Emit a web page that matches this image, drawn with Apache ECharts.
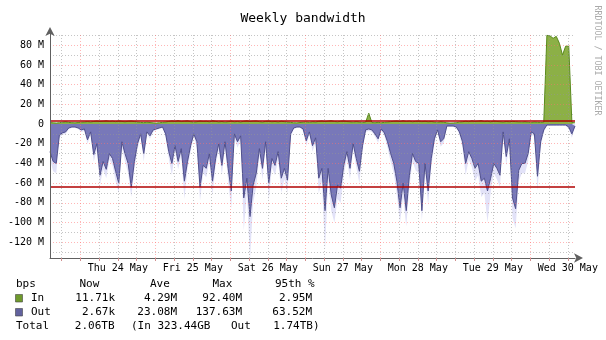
<!DOCTYPE html>
<html><head><meta charset="utf-8">
<script src="https://cdn.jsdelivr.net/npm/echarts@6/dist/echarts.min.js"></script>
<style>html,body{margin:0;padding:0;background:#fff}#c{width:606px;height:340px}</style>
</head><body><div id="c"></div>
<script>
// Hours since graph start (Wed 23 May ~14:18); one value per hour
const dayLabels = ['Thu 24 May','Fri 25 May','Sat 26 May','Sun 27 May','Mon 28 May','Tue 29 May','Wed 30 May'];
const firstMidnight = 9.7; // hour offset of Thu 24 May 00:00
const yTickValues = [-120,-100,-80,-60,-40,-20,0,20,40,60,80];
const percentileIn = 2.95;
const percentileOut = -63.52;

const inAvg = [
1.5,1.2,1.0,1.3,1.8,2.2,1.6,1.4,1.2,1.5,
1.8,2.0,2.4,2.0,2.6,3.0,2.5,2.8,3.2,2.6,
2.9,2.4,3.1,2.7,2.2,2.8,3.0,2.5,2.0,1.6,
1.4,1.8,1.5,1.2,1.0,1.3,1.6,2.0,2.6,3.1,
2.7,3.4,2.5,2.9,3.2,2.4,1.9,2.3,3.0,2.6,
2.8,2.2,3.3,2.7,2.1,2.5,1.9,2.4,3.0,2.2,
2.6,2.0,2.8,3.2,2.5,2.9,3.1,2.4,2.0,2.7,
3.0,2.3,2.6,2.1,2.8,2.4,2.0,1.6,1.3,1.2,
1.5,1.8,2.1,1.6,2.3,2.0,2.7,3.0,2.4,2.9,
3.3,2.6,2.2,2.8,3.1,2.5,2.2,1.9,2.4,2.0,
1.6,1.8,11.0,1.5,1.3,1.7,1.4,1.6,2.0,2.4,
2.8,3.0,2.5,3.2,2.6,2.9,2.3,2.7,3.0,2.4,
2.8,2.2,2.5,2.0,1.6,2.2,1.8,1.2,1.0,1.1,
1.4,1.9,2.3,2.8,2.4,3.1,2.6,2.9,3.3,2.5,
2.8,2.2,3.0,2.6,2.3,2.0,2.5,2.2,2.7,2.4,
2.1,1.9,2.2,1.8,1.5,2.0,1.7,1.6,1.8,90.0,
89.5,87.0,89.0,82.0,70.0,79.0,79.0,1.5,1.2
];

const outAvg = [
-28,-38,-40,-11,-9,-8,-4,-3,-3,-4,
-6,-5,-16,-8,-31,-20,-52,-38,-46,-30,
-35,-48,-60,-18,-30,-40,-64,-38,-20,-10,
-30,-8,-12,-6,-5,-4,-3,-10,-28,-40,
-22,-38,-25,-58,-38,-22,-10,-18,-64,-42,
-45,-30,-58,-35,-20,-42,-18,-45,-68,-10,
-18,-12,-75,-55,-94,-62,-50,-25,-45,-18,
-60,-35,-42,-28,-55,-45,-57,-10,-4,-3,
-3,-5,-17,-8,-22,-14,-55,-45,-88,-45,
-72,-85,-62,-65,-42,-28,-45,-20,-35,-48,
-22,-6,-5,-6,-10,-15,-5,-9,-18,-30,
-40,-58,-85,-60,-88,-52,-30,-38,-40,-88,
-40,-68,-35,-15,-6,-18,-15,-2,-2,-2,
-3,-8,-18,-40,-28,-35,-45,-40,-58,-55,
-68,-55,-40,-45,-52,-8,-33,-15,-75,-86,
-47,-40,-40,-30,-8,-10,-53,-18,-6,-1,
-1,-1,-1,-1,-1,-1,-3,-10,-2
];

const outMax = [
-36,-48,-50,-14,-11,-10,-5,-4,-4,-5,
-8,-7,-20,-11,-38,-26,-62,-46,-55,-36,
-42,-58,-70,-24,-38,-50,-74,-46,-26,-13,
-38,-10,-15,-8,-6,-5,-4,-13,-35,-52,
-28,-46,-32,-76,-46,-28,-13,-24,-78,-50,
-54,-38,-72,-42,-26,-52,-24,-58,-86,-14,
-24,-16,-108,-70,-137.63,-80,-64,-32,-56,-24,
-78,-44,-52,-36,-70,-56,-70,-14,-5,-4,
-4,-7,-22,-11,-28,-19,-70,-58,-128,-58,
-88,-100,-76,-80,-52,-36,-56,-26,-44,-60,
-28,-8,-7,-8,-13,-19,-7,-12,-24,-38,
-50,-72,-100,-74,-104,-64,-38,-47,-50,-98,
-50,-82,-44,-20,-8,-23,-19,-3,-3,-3,
-4,-11,-24,-52,-36,-44,-58,-52,-74,-70,
-100,-70,-50,-56,-64,-11,-42,-20,-95,-106,
-58,-50,-50,-38,-11,-13,-68,-24,-8,-2,
-2,-2,-2,-2,-2,-2,-5,-14,-3
];

const legendRows = [
  {label:'In',  now:'11.71k', ave:'4.29M',  max:'92.40M',  p95:'2.95M'},
  {label:'Out', now:'2.67k',  ave:'23.08M', max:'137.63M', p95:'63.52M'}
];
const totalText = {total:'2.06TB', inText:'(In 323.44GB', outLabel:'Out', outText:'1.74TB)'};

const FONT = '"DejaVu Sans Mono", monospace';
const toPairs = arr => arr.map((v, i) => [i, v]);

const gridXMinor = [], gridXMajor = [];
for (let h = firstMidnight - 6; h <= 168; h += 6) {
  if (Math.abs(((h - firstMidnight) % 24 + 24) % 24) < 1e-6) gridXMajor.push(+h.toFixed(2)); else gridXMinor.push(+h.toFixed(2));
}
const labelX = dayLabels.map((d, k) => +(firstMidnight + 12 + 24 * k).toFixed(2));
const gridYMajor = [-120,-100,-80,-60,-40,-20,20,40,60,80];
const gridYMinor = [-130,-110,-90,-70,-50,-30,-10,10,30,50,70,90];

const minorStyle = {color:'rgba(150,150,150,0.55)', width:1, type:[1,2]};
const majorStyle = {color:'rgba(255,110,110,0.5)', width:1, type:[1,2]};
const gridLines = []
  .concat(gridYMinor.map(v => ({yAxis:v, lineStyle:minorStyle})))
  .concat(gridYMajor.map(v => ({yAxis:v, lineStyle:majorStyle})))
  .concat(gridXMinor.map(v => ({xAxis:v, lineStyle:minorStyle})))
  .concat(gridXMajor.map(v => ({xAxis:v, lineStyle:majorStyle})));

const chart = echarts.init(document.getElementById('c'), null, {renderer:'canvas'});

const legendGraphics = [];
function txt(x, y, t, align) {
  legendGraphics.push({type:'text', x:x, y:y, style:{text:t, font:'11px ' + FONT, fill:'#000', align:align || 'left', verticalAlign:'middle'}});
}
txt(16, 284.5, 'bps'); txt(79.5, 284.5, 'Now'); txt(150, 284.5, 'Ave'); txt(212.5, 284.5, 'Max'); txt(275, 284.5, '95th %');
const swatchColors = ['#6f9a2c', '#62629e'];
legendRows.forEach((r, k) => {
  const y = 298.5 + 14 * k;
  legendGraphics.push({type:'rect', shape:{x:15.5, y:y - 4, width:7, height:7.5}, style:{fill:swatchColors[k], stroke:'#444', lineWidth:0.6}});
  txt(31, y, r.label); txt(115, y, r.now, 'right'); txt(177, y, r.ave, 'right'); txt(242, y, r.max, 'right'); txt(312, y, r.p95, 'right');
});
txt(16, 326.5, 'Total'); txt(114.5, 326.5, totalText.total, 'right'); txt(131, 326.5, totalText.inText); txt(231, 326.5, totalText.outLabel); txt(319.5, 326.5, totalText.outText, 'right');

legendGraphics.push({type:'text', x:597, y:60.5, rotation:-Math.PI/2,
  style:{text:'RRDTOOL / TOBI OETIKER', font:'8.3px ' + FONT, fill:'#aaaaaa', align:'center', verticalAlign:'middle'}});

const option = {
  animation:false,
  backgroundColor:'#ffffff',
  title:{text:'Weekly bandwidth', left:'center', top:7,
    textStyle:{fontFamily:FONT, fontSize:13, fontWeight:'normal', color:'#000'}},
  grid:{left:50, right:31, top:33, bottom:82, containLabel:false},
  xAxis:{type:'value', min:0, max:168, z:10,
    axisLine:{show:true, onZero:false, lineStyle:{color:'#606060', width:1}, symbol:['none','arrow'], symbolSize:[7,9], symbolOffset:[0,8]},
    splitLine:{show:false},
    axisTick:{show:true, customValues:gridXMajor.concat(gridXMinor), length:3, lineStyle:{color:'#d09090'}},
    axisLabel:{show:true, customValues:labelX, hideOverlap:false, fontFamily:FONT, fontSize:10, color:'#000', margin:5,
      formatter: v => { let best = 0, d = 1e9; labelX.forEach((x, k) => { if (Math.abs(x - v) < d) { d = Math.abs(x - v); best = k; } }); return dayLabels[best]; }}
  },
  yAxis:{type:'value', min:-136, max:92.4, z:10,
    axisLine:{show:true, onZero:false, lineStyle:{color:'#606060', width:1}, symbol:['none','arrow'], symbolSize:[7,9], symbolOffset:[0,6]},
    splitLine:{show:false},
    axisTick:{show:false},
    axisLabel:{show:true, customValues:yTickValues, fontFamily:FONT, fontSize:10, color:'#000', margin:6,
      formatter: v => v === 0 ? '0' : (v + ' M')}
  },
  graphic:legendGraphics,
  series:[
    {name:'grid', type:'line', data:[[0,0]], z:1, symbol:'none', lineStyle:{opacity:0}, silent:true,
      markLine:{silent:true, symbol:['none','none'], label:{show:false}, animation:false, data:gridLines}},
    {name:'OutMax', type:'line', data:toPairs(outMax), z:2, symbol:'none', lineStyle:{width:0}, areaStyle:{color:'#e2e2f8', opacity:1}, silent:true},
    {name:'Out', type:'line', data:toPairs(outAvg), z:3, symbol:'none', lineStyle:{color:'#50508c', width:1}, areaStyle:{color:'#7878b9', opacity:1}, silent:true},
    {name:'In', type:'line', data:toPairs(inAvg), z:4, symbol:'none', lineStyle:{color:'#5a8a1e', width:1}, areaStyle:{color:'#8cb046', opacity:1}, silent:true},
    {name:'p95', type:'line', data:[[0,0]], z:5, symbol:'none', lineStyle:{opacity:0}, silent:true,
      markLine:{silent:true, symbol:['none','none'], label:{show:false}, animation:false,
        lineStyle:{color:'#b00000', width:1.6, type:'solid'},
        data:[{yAxis:percentileIn}, {yAxis:percentileOut}]}}
  ]
};
chart.setOption(option);
</script>
</body></html>
